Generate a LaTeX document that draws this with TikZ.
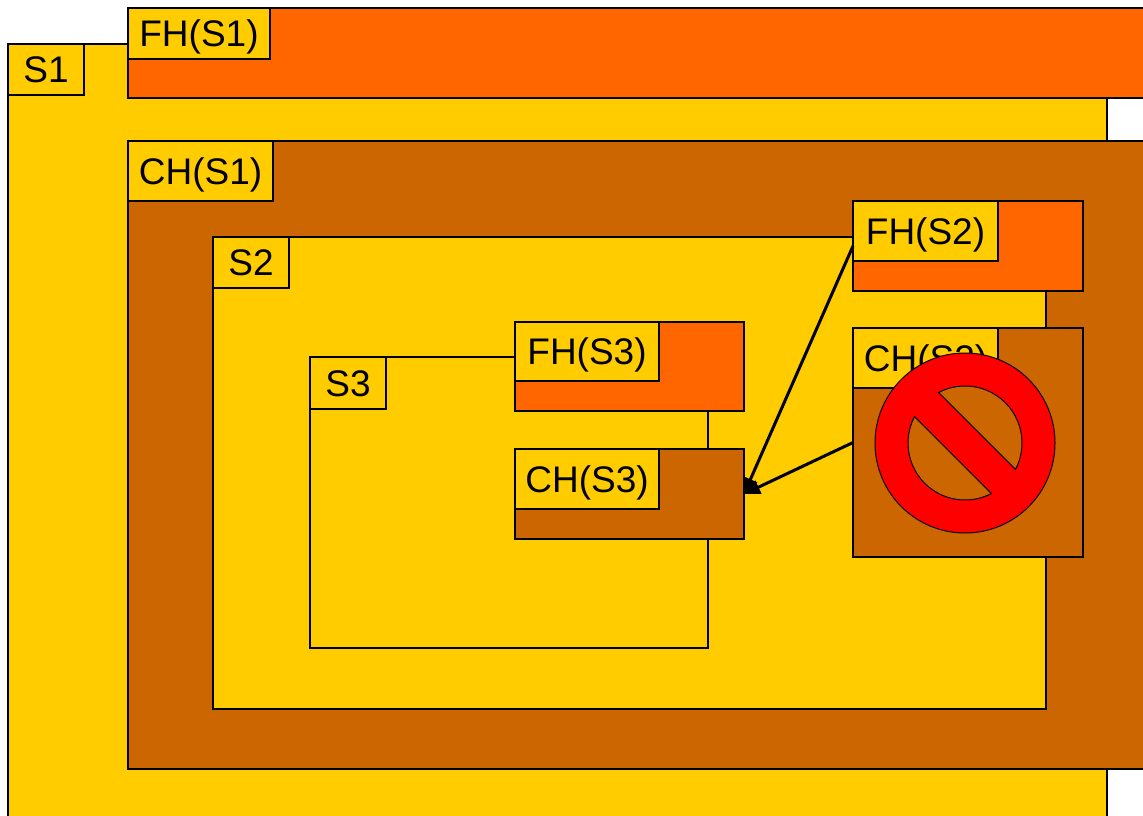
\documentclass[tikz,border=0pt]{standalone}
\usepackage{fontspec}
\setmainfont{Liberation Sans}
\usetikzlibrary{positioning, calc, arrows.meta}

\definecolor{scopeyellow}{HTML}{FFCC00}
\definecolor{handlerorange}{HTML}{FF6600}
\definecolor{handlerbrown}{HTML}{CC6600}
\definecolor{signred}{HTML}{FF0000}

\begin{document}
\begin{tikzpicture}[x=1pt, y=-1pt,
    region/.style={draw, line width=1.2pt, inner sep=0pt, outer sep=0pt, anchor=north west},
    scopebox/.style={region, fill=scopeyellow},
    fhbox/.style={region, fill=handlerorange},
    chbox/.style={region, fill=handlerbrown},
    tag/.style={region, fill=scopeyellow, font=\fontsize{37}{44}\selectfont,
        text height=26.5pt, text depth=0pt, minimum width=145, minimum height=60},
    stag/.style={tag, minimum width=76, minimum height=51}]
    \useasboundingbox (0,0) rectangle (1143,816);
    \clip (0,0) rectangle (1143,816);

    % outer scope
    \node[scopebox, minimum width=1099, minimum height=800] (s1) at (8,44) {};
    \node[stag] (s1tag) at (s1.north west) {S1};
    \node[fhbox, minimum width=1040, minimum height=90] (fhs1) at (128,8) {};
    \node[tag, minimum width=142, minimum height=51] (fhs1tag) at (fhs1.north west) {FH(S1)};
    \node[chbox, minimum width=1040, minimum height=628] (chs1) at (128,141) {};
    \node[tag] (chs1tag) at (chs1.north west) {CH(S1)};

    % scope S2
    \node[scopebox, minimum width=833, minimum height=472] (s2) at (213,237) {};
    \node[stag] (s2tag) at (s2.north west) {S2};

    % scope S3
    \node[scopebox, minimum width=398, minimum height=291] (s3) at (310,357) {};
    \node[stag, minimum height=52] (s3tag) at (s3.north west) {S3};
    \node[fhbox, minimum width=229, minimum height=89] (fhs3) at (515,322) {};
    \node[tag, minimum width=144, minimum height=59] (fhs3tag) at (fhs3.north west) {FH(S3)};
    \node[chbox, minimum width=229, minimum height=90] (chs3) at (515,449) {};
    \node[tag, minimum width=144] (chs3tag) at (chs3.north west) {CH(S3)};

    % handlers of S2
    \node[fhbox, minimum width=230, minimum height=90] (fhs2) at (853,201) {};
    \node[tag] (fhs2tag) at (fhs2.north west) {FH(S2)};
    \node[chbox, minimum width=230, minimum height=229] (chs2) at (853,328) {};
    \node[tag] (chs2tag) at (chs2.north west) {CH(S2)};

    \draw[-{Triangle[length=16pt, width=14pt]}, line width=3pt] (fhs2.west) -- (chs3.east);
    \draw[-{Triangle[length=16pt, width=14pt]}, line width=3pt] (chs2.west) -- (chs3.east);

    % forbidden sign
    \coordinate (nosign) at (965,443);
    \filldraw[fill=signred, draw=black, line width=1pt] (nosign) circle (90pt);
    \filldraw[fill=handlerbrown, draw=black, line width=1pt]
        ($(nosign)+(-27.6:57pt)$) arc[start angle=-27.6, end angle=117.6, radius=57pt] -- cycle;
    \filldraw[fill=handlerbrown, draw=black, line width=1pt]
        ($(nosign)+(152.4:57pt)$) arc[start angle=152.4, end angle=297.6, radius=57pt] -- cycle;
\end{tikzpicture}
\end{document}
